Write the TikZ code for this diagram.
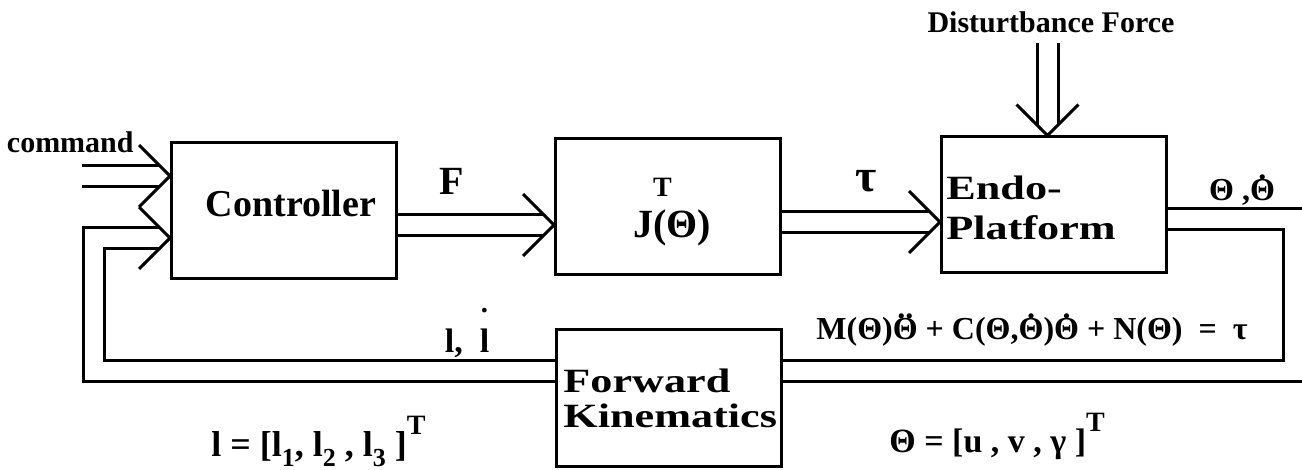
\documentclass[tikz,border=0pt]{standalone}
\usepackage{fontspec}
\setmainfont{Liberation Serif}
\newfontfamily\widefont{Liberation Serif}[FakeStretch=1.3]
\usetikzlibrary{positioning}
\newcommand{\thd}{\ooalign{Θ\cr\hidewidth\raisebox{0.68em}{.}\hidewidth\cr}}
\newcommand{\thdd}{\ooalign{Θ\cr\hidewidth\raisebox{0.68em}{..}\hidewidth\cr}}
\newcommand{\elld}{\ooalign{l\cr\hidewidth\raisebox{1.2em}{\Large .}\hidewidth\cr}}
\newcommand{\lsub}[1]{\raisebox{-0.3em}{\fontsize{13}{13}\selectfont #1}}
\newcommand{\supT}{\raisebox{0.6em}{\fontsize{14}{14}\selectfont T}}
\newcommand{\vtip}[2]{\draw[barb] (#1) +(#2+135:21.9pt) -- (#1) -- +(#2-135:21.9pt);}
\tikzset{
  blockbox/.style={draw, line width=1.5pt, minimum width=112.5pt, minimum height=68pt, inner sep=0pt},
  dblline/.style={draw, double, line width=1.5pt, double distance=9pt, shorten >=5.25pt},
  barb/.style={line width=1.5pt},
  lbl/.style={inner sep=0pt, font=\bfseries}
}

\begin{document}
\begin{tikzpicture}[x=0.5pt, y=-0.5pt]
  \useasboundingbox (0,0) rectangle (1302,470);
  % blocks
  \node[blockbox] (ctrl) at (284,211) {};
  \node[blockbox] (jac) at (668,207) {};
  \node[blockbox] (endo) at (1054,205) {};
  \node[blockbox] (fk) at (669,398) {};
  % block texts
  \node[lbl, anchor=base] (ctrltxt) at (291,217) {\fontsize{19}{19}\selectfont Controller};
  \node[lbl, anchor=base] (jtxt) at (672,238) {\fontsize{20}{20}\selectfont J\rlap{\raisebox{20.5pt}{\fontsize{14}{14}\selectfont T}}(Θ)};
  \node[lbl, anchor=base west] (endotxt1) at (946,200) {\widefont\fontsize{17}{17}\selectfont Endo-};
  \node[lbl, anchor=base west] (endotxt2) at (946,240) {\widefont\fontsize{17}{17}\selectfont Platform};
  \node[lbl, anchor=base west] (fktxt1) at (563,393) {\widefont\fontsize{17}{17}\selectfont Forward};
  \node[lbl, anchor=base west] (fktxt2) at (563,428) {\widefont\fontsize{17}{17}\selectfont Kinematics};
  % ports
  \coordinate (cmd) at (82,176);
  \coordinate (fbin) at ([yshift=-13.5pt]ctrl.west);
  \coordinate (fbcorner) at (94,371);
  \coordinate (fout) at ([yshift=-7pt]ctrl.east);
  \coordinate (tauout) at ([yshift=-7.5pt]jac.east);
  \coordinate (dist) at (1047.5,43);
  \coordinate (thout) at ([yshift=-7pt]endo.east);
  \coordinate (loopcorner) at (1293.5,371);
  % double connectors
  \draw[dblline] (cmd) -- (cmd -| ctrl.west);
  \vtip{cmd -| ctrl.west}{0}
  \draw[dblline] (fbcorner -| fk.west) -- (fbcorner) |- (fbin);
  \vtip{fbin}{0}
  \draw[dblline] (fout) -- (fout -| jac.west);
  \vtip{fout -| jac.west}{0}
  \draw[dblline] (tauout) -- (tauout -| endo.west);
  \vtip{tauout -| endo.west}{0}
  \draw[dblline] (dist) -- (dist |- endo.north);
  \vtip{dist |- endo.north}{-90}
  \draw[dblline, shorten >=0pt] (thout) -| (loopcorner) -- (loopcorner -| fk.east);
  % signal labels
  \node[lbl, anchor=base east] (cmdtxt) at (134,153) {\fontsize{15}{15}\selectfont command};
  \node[lbl, anchor=base] (ftxt) at (452,195) {\fontsize{20}{20}\selectfont F};
  \node[lbl, anchor=base] (tautxt) at (866,192) {\fontsize{23}{23}\selectfont τ};
  \node[lbl, anchor=base] (thtxt) at (1242,201) {\fontsize{16}{16}\selectfont Θ ,\thd};
  \node[lbl, anchor=base] (disttxt) at (1051,33) {\fontsize{15}{15}\selectfont Disturtbance Force};
  \node[lbl, anchor=base] (eqtxt) at (1032,340) {\fontsize{16}{16}\selectfont M(Θ)\thdd{} + C(Θ,\thd)\thd{} + N(Θ) \ = \ τ};
  \node[lbl, anchor=base] (ltxt) at (467,353) {\fontsize{17}{17}\selectfont l,\ \ \elld};
  \node[lbl, anchor=base west] (lvec) at (211,456) {\fontsize{18}{18}\selectfont l = [l\lsub{1}, l\lsub{2} , l\lsub{3} ]\supT};
  \node[lbl, anchor=base west] (thvec) at (889,452) {\fontsize{17}{17}\selectfont Θ = [u , v , γ ]\supT};
\end{tikzpicture}
\end{document}
